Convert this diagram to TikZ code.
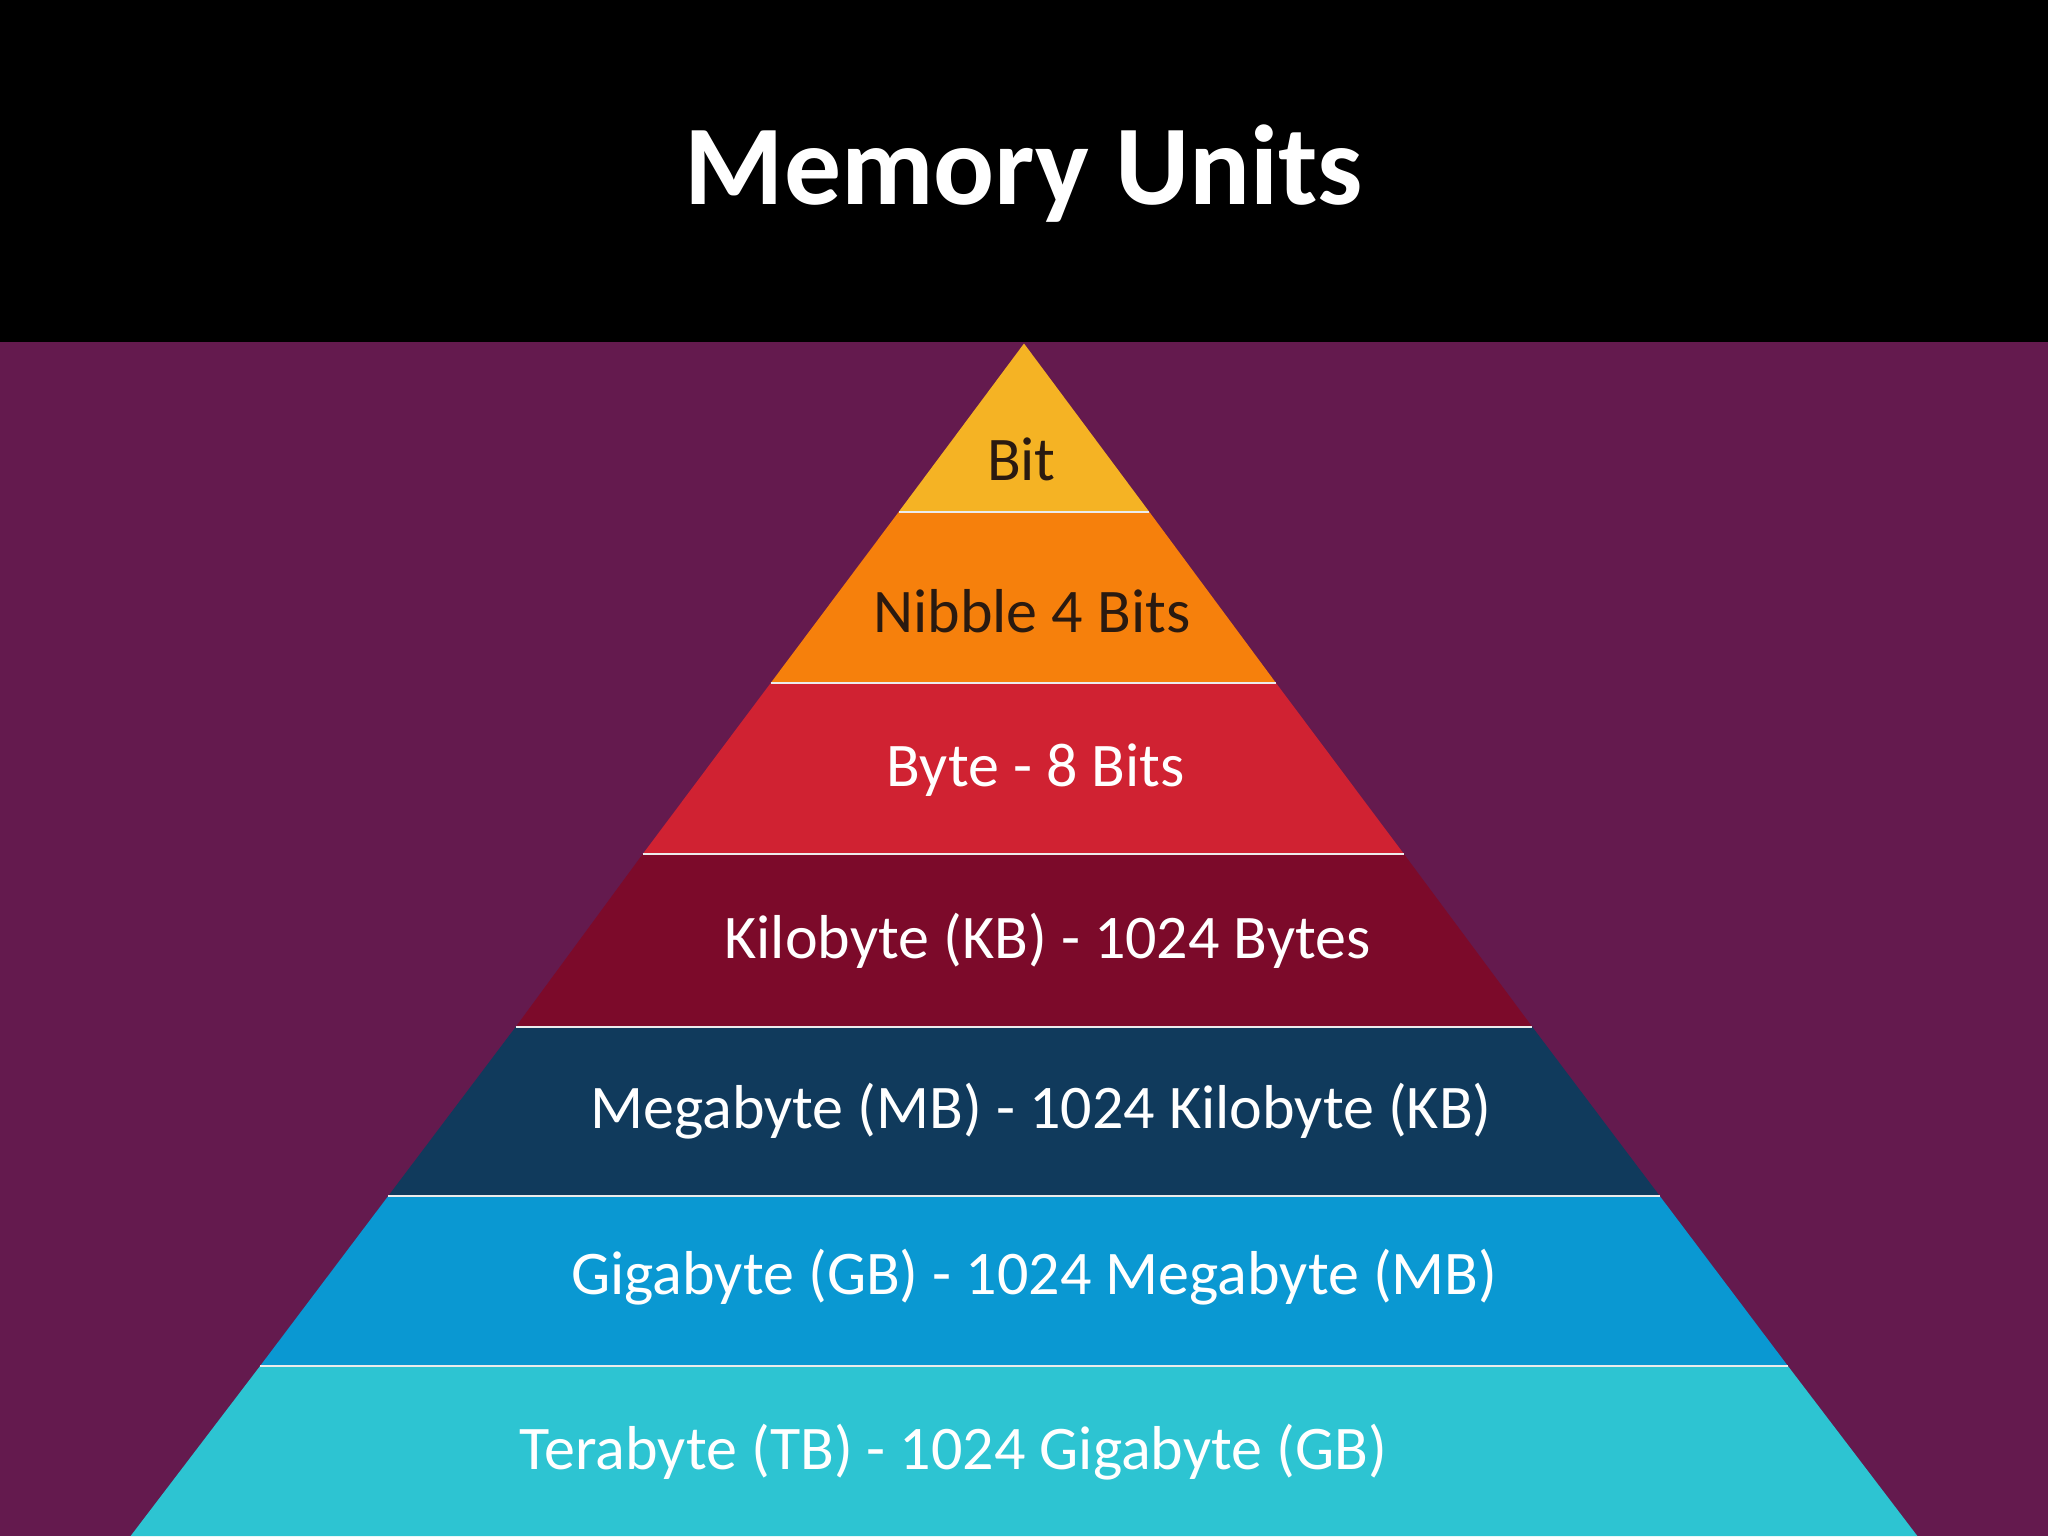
\documentclass[tikz,border=0pt]{standalone}
\usepackage{fontspec}
\setmainfont{Carlito}
\definecolor{bgpurple}{HTML}{641A4E}
\definecolor{cbit}{HTML}{F5B324}
\definecolor{cnib}{HTML}{F6800C}
\definecolor{cbyte}{HTML}{D02232}
\definecolor{ckb}{HTML}{7C0A2A}
\definecolor{cmb}{HTML}{103A5C}
\definecolor{cgb}{HTML}{0A98D2}
\definecolor{ctb}{HTML}{2DC4D2}
\definecolor{darktxt}{HTML}{2A1A10}
\tikzset{
  band/.style={draw=white!85!gray, line width=1.5pt},
  lbl/.style={font=\fontsize{47.5}{52}\selectfont, inner sep=0pt},
}
\begin{document}
\begin{tikzpicture}[x=1pt,y=-1pt]
\useasboundingbox (0,0) rectangle (1568,1176);
\fill[black] (0,0) rectangle (1568,262);
\fill[bgpurple] (0,262) rectangle (1568,1176);
\node[text=white, font=\bfseries\fontsize{87}{94}\selectfont] (title) at (784,133) {Memory Units};
% bands
\fill[cbit] (784,263) -- (880,392) -- (688,392) -- cycle;
\fill[cnib] (688,392) -- (880,392) -- (977,523) -- (590,523) -- cycle;
\fill[cbyte] (590,523) -- (977,523) -- (1075,654) -- (492,654) -- cycle;
\fill[ckb] (492,654) -- (1075,654) -- (1173,786) -- (395,786) -- cycle;
\fill[cmb] (395,786) -- (1173,786) -- (1271,916) -- (297,916) -- cycle;
\fill[cgb] (297,916) -- (1271,916) -- (1369,1046) -- (199,1046) -- cycle;
\fill[ctb] (199,1046) -- (1369,1046) -- (1468,1176) -- (100,1176) -- cycle;
\foreach \l/\r/\y in {688/880/392,590/977/523,492/1075/654,395/1173/786,297/1271/916,199/1369/1046}
  \draw[band] (\l,\y) -- (\r,\y);
\node[lbl, text=darktxt] (bit) at (782,352) {Bit};
\node[lbl, text=darktxt] (nib) at (790,468) {Nibble 4 Bits};
\node[lbl, text=white] (byte) at (793,590) {Byte - 8 Bits};
\node[lbl, text=white] (kb) at (802,720) {Kilobyte (KB) - 1024 Bytes};
\node[lbl, text=white] (mb) at (797,851) {Megabyte (MB) - 1024 Kilobyte (KB)};
\node[lbl, text=white] (gb) at (792,978) {Gigabyte (GB) - 1024 Megabyte (MB)};
\node[lbl, text=white] (tb) at (730,1112) {Terabyte (TB) - 1024 Gigabyte (GB)};
\end{tikzpicture}
\end{document}
